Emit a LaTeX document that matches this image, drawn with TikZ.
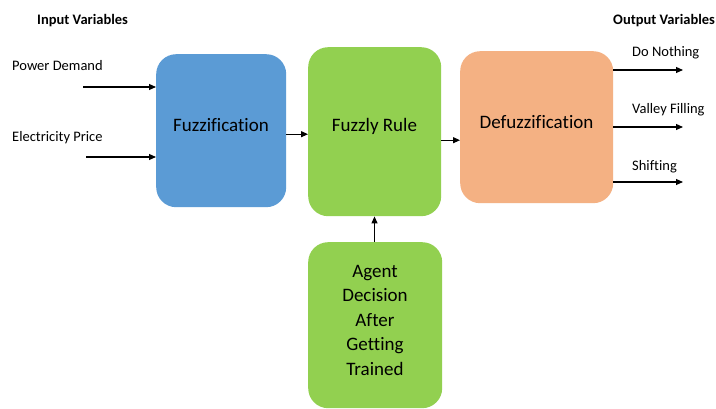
\documentclass[tikz,border=0pt]{standalone}
\usepackage{fontspec}
\setmainfont{Carlito}[Ligatures=NoCommon]
\usetikzlibrary{arrows.meta}
\definecolor{fzblue}{HTML}{5B9BD5}
\definecolor{frgreen}{HTML}{92D050}
\definecolor{dforange}{HTML}{F4B183}
\begin{document}
\begin{tikzpicture}[x=1pt,y=-1pt,
  block/.style={rounded corners=20pt, draw=none, inner sep=0pt, anchor=north west},
  blocktext/.style={font=\fontsize{19}{24.5}\selectfont, align=center, inner sep=0pt},
  varlabel/.style={font=\fontsize{14.5}{17}\selectfont, anchor=base west, inner sep=0pt},
  heading/.style={font=\bfseries\fontsize{14.5}{17}\selectfont, anchor=base west, inner sep=0pt},
  flow/.style={-{Triangle[length=7pt,width=6pt]}, line width=1.1pt}]
  \clip (0,0) rectangle (716,409);
  \useasboundingbox (0,0) rectangle (716,409);
  \fill[white] (0,0) rectangle (716,409);

  % processing blocks
  \node[block, fill=fzblue, minimum width=130pt, minimum height=153pt] (fz) at (156,54) {};
  \node[block, fill=frgreen, minimum width=133pt, minimum height=169pt] (fr) at (308,47) {};
  \node[block, fill=dforange, minimum width=153pt, minimum height=152pt] (df) at (460,51) {};
  \node[block, fill=frgreen, minimum width=134pt, minimum height=166pt] (ag) at (308,242) {};

  \node[blocktext] (fzt) at (221,125) {Fuzzification};
  \node[blocktext] (frt) at (374.5,126) {Fuzzly Rule};
  \node[blocktext] (dft) at (536.5,122) {Defuzzification};
  \node[blocktext] (agt) at (375,320) {Agent\\Decision\\After\\Getting\\Trained};

  % headings
  \node[heading] (inh) at (37,25) {Input Variables};
  \node[heading] (outh) at (613,25) {Output Variables};

  % input variables
  \node[varlabel] (pd) at (12,71) {Power Demand};
  \node[varlabel] (ep) at (12,142) {Electricity Price};
  \coordinate (pds) at (83,87);
  \coordinate (eps) at (86,157);
  \draw[flow] (pds) -- (pds -| fz.west);
  \draw[flow] (eps) -- (eps -| fz.west);

  % chain of blocks
  \draw[flow] ([yshift=-3.5pt]fz.east) -- ([yshift=-3.5pt]fz.east -| fr.west);
  \draw[flow] ([yshift=-8.5pt]fr.east) -- ([yshift=-8.5pt]fr.east -| df.west);
  \draw[flow] (ag.north -| frt) -- (fr.south -| frt);

  % output variables
  \coordinate (o1) at (683,70);
  \coordinate (o2) at (683,127);
  \coordinate (o3) at (683,182);
  \draw[flow] (o1 -| df.east) -- (o1);
  \draw[flow] (o2 -| df.east) -- (o2);
  \draw[flow] (o3 -| df.east) -- (o3);
  \node[varlabel] (dn) at (632,57) {Do Nothing};
  \node[varlabel] (vf) at (632,114) {Valley Filling};
  \node[varlabel] (sh) at (632,171) {Shifting};
\end{tikzpicture}
\end{document}
